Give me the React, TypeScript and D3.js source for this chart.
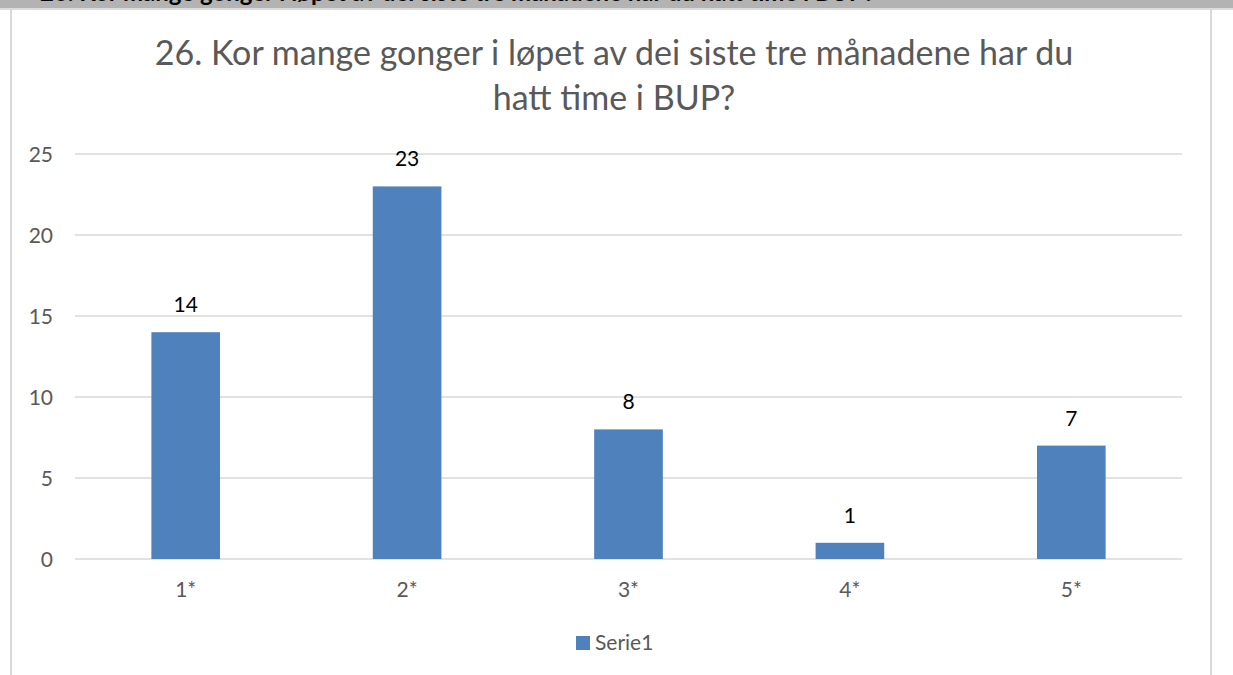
import React from 'react';
import * as d3 from 'd3';

const categories = ['1*', '2*', '3*', '4*', '5*'];
const values = [14, 23, 8, 1, 7];
const yTicks = [0, 5, 10, 15, 20, 25];
const seriesName = 'Serie1';
const titleLines = ['26. Kor mange gonger i løpet av dei siste tre månadene har du', 'hatt time i BUP?'];
const bannerText = '26. Kor mange gonger i løpet av dei siste tre månadene har du hatt time i BUP?';

const W = 1233, H = 675;
const FONT = 'Lato, "Open Sans", sans-serif';

export default function App() {
  const x = d3.scaleBand<string>()
    .domain(categories)
    .range([75, 1182])
    .paddingInner(0.69)
    .paddingOuter(0.345);
  const y = d3.scaleLinear().domain([0, 25]).range([559, 154]);

  return (
    <svg width={W} height={H} style={{ position: 'absolute', left: 0, top: 0 }}>
      <defs>
        <clipPath id="band"><rect x={0} y={0} width={W} height={8} /></clipPath>
      </defs>
      <rect x={0} y={0} width={W} height={H} fill="#fff" />
      {/* grey strip, heading above it is cut off */}
      <rect x={0} y={0} width={W} height={8} fill="#b3b3b3" />
      <text x={40} y={1} clipPath="url(#band)" fontFamily={FONT} fontWeight="bold" fontSize={24} fill="#000">{bannerText}</text>
      <rect x={0} y={8} width={W} height={2} fill="#dcdcdc" />
      {/* chart frame */}
      <line x1={11} y1={10} x2={11} y2={H} stroke="#d9d9d9" strokeWidth={2} />
      <line x1={1211} y1={10} x2={1211} y2={H} stroke="#d9d9d9" strokeWidth={2} />

      {titleLines.map((t, i) => (
        <text key={i} x={614} y={65 + i * 45} textAnchor="middle" fontFamily={FONT} fontSize={34} fill="#595959">{t}</text>
      ))}

      {yTicks.map(t => (
        <g key={t}>
          <line x1={75} x2={1182} y1={y(t)} y2={y(t)} stroke="#d9d9d9" strokeWidth={1.5} />
          <text x={53} y={y(t)} dy="0.36em" textAnchor="end" fontFamily={FONT} fontSize={21} fill="#595959">{t}</text>
        </g>
      ))}

      {categories.map((c, i) => (
        <g key={c}>
          <rect x={x(c)!} y={y(values[i])} width={x.bandwidth()} height={y(0) - y(values[i])} fill="#4f81bd" />
          <text x={x(c)! + x.bandwidth() / 2} y={y(values[i]) - 20} textAnchor="middle" fontFamily={FONT} fontSize={21} fill="#000">{values[i]}</text>
          <text x={x(c)! + x.bandwidth() / 2} y={597} textAnchor="middle" fontFamily={FONT} fontSize={21} fill="#595959">{c}</text>
        </g>
      ))}

      <rect x={576} y={636} width={14} height={14} fill="#4f81bd" />
      <text x={595} y={650} fontFamily={FONT} fontSize={21} fill="#595959">{seriesName}</text>
    </svg>
  );
}
